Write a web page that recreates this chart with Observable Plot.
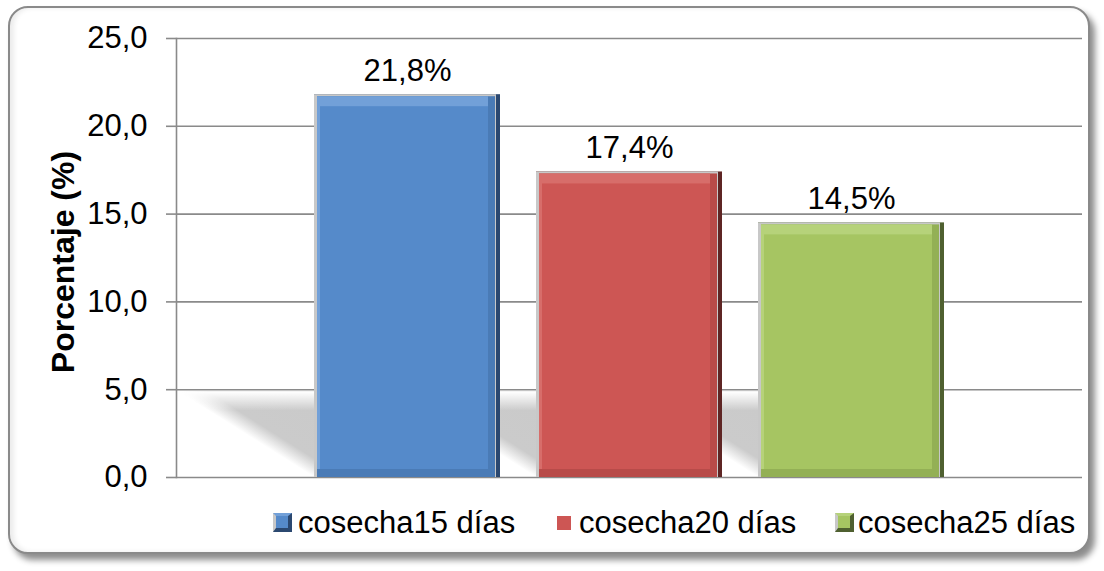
<!DOCTYPE html>
<html>
<head>
<meta charset="utf-8">
<script src="https://cdn.jsdelivr.net/npm/d3@7"></script>
<script src="https://cdn.jsdelivr.net/npm/@observablehq/plot@0.6"></script>
<style>
  html, body { margin: 0; padding: 0; background: #fff; }
  body { width: 1104px; height: 571px; position: relative; overflow: hidden; font-family: "Liberation Sans", Arial, sans-serif; }
  #frame { position: absolute; left: 8px; top: 6px; width: 1078px; height: 544px; border: 2px solid #8a8a8a; border-radius: 20px; background: #fff; box-shadow: 5px 6px 6px rgba(0,0,0,0.45), inset 4px 0 5px rgba(0,0,0,0.08); }
  #chart { position: absolute; left: 0; top: 0; }
  #legend { position: absolute; left: 0; top: 0; width: 1104px; height: 571px; font-size: 31px; color: #000; pointer-events: none; }
  .sw { position: absolute; box-sizing: border-box; }
  .txt { position: absolute; top: 505px; white-space: nowrap; line-height: 36px; }
</style>
</head>
<body>
<div id="frame"></div>
<div id="chart"></div>
<div id="legend"></div>
<script>
// ---- data ----
const series = ["cosecha15 días", "cosecha20 días", "cosecha25 días"];
const values = [21.8, 17.4, 14.5];
const yTicks = [0, 5, 10, 15, 20, 25];
const yLabel = "Porcentaje (%)";
const mainColors  = ["#558ACA", "#CD5654", "#A6C562"];
const lightColors = ["#72A0D8", "#D76D6A", "#B6D27A"];
const shadeColors = ["#4A7BB6", "#B84B49", "#93B055"];
const darkColors  = ["#2B4870", "#5E2524", "#4F6030"];

const data = series.map((s, i) => ({s, v: values[i], main: mainColors[i], light: lightColors[i], shade: shadeColors[i], dark: darkColors[i]}));
const comma = (v, d) => v.toFixed(d).replace(".", ",");

const bar = (opts) => Plot.barY(data, {x: "s", y: "v", ...opts});

const chart = Plot.plot({
  width: 1104,
  height: 500,
  marginLeft: 176,
  marginRight: 22,
  marginTop: 38,
  marginBottom: 23,
  style: {background: "none", fontFamily: "'Liberation Sans', Arial, sans-serif", overflow: "visible"},
  x: {domain: series, range: [278, 980], padding: 0.162, axis: null},
  y: {domain: [0, 25], axis: null},
  color: {type: "identity"},
  marks: [
    // perspective shadow (first bar group; skewed below)
    Plot.barY(data, {x: "s", y1: () => 0, y2: () => 4.85, fill: "#c9c9c9"}),
    Plot.ruleY(yTicks, {stroke: "#8a8a8a", strokeWidth: 1.6}),
    Plot.frame({anchor: "left", stroke: "#8a8a8a", strokeWidth: 1.6}),
    Plot.axisY({ticks: yTicks, tickFormat: d => comma(d, 1), tickSize: 10, tickPadding: 19, fontSize: 31, stroke: "#8a8a8a", strokeWidth: 1.6, label: null}),
    // bevelled bars
    bar({fill: d => d.dark}),
    bar({fill: "#c8c8c8", insetRight: 4}),
    bar({fill: d => d.shade, insetLeft: 3, insetTop: 2, insetRight: 5}),
    bar({fill: d => d.light, insetLeft: 3, insetTop: 2, insetRight: 12, insetBottom: 8}),
    bar({fill: d => d.main, insetLeft: 6, insetTop: 12, insetRight: 12, insetBottom: 8}),
    // value labels
    Plot.text(data, {x: "s", y: "v", text: d => comma(d.v, 1) + "%", lineAnchor: "bottom", dy: -14, fontSize: 31, fill: "#000", style: {letterSpacing: "0.5px"}}),
    // axis title
    Plot.text([yLabel], {text: d => d, frameAnchor: "left", textAnchor: "middle", rotate: -90, dx: -113, dy: 4, fontSize: 32, fontWeight: "bold", fill: "#000", style: {letterSpacing: "1px"}})
  ]
});

// skew the shadow group so it falls back and to the left, with soft gradient edges
const y0 = chart.scale("y").apply(0);
const sh = chart.querySelector('g[aria-label="bar"]');
if (sh) {
  const ns = "http://www.w3.org/2000/svg";
  const defs = document.createElementNS(ns, "defs");
  const mk = (tag, attrs) => { const e = document.createElementNS(ns, tag); for (const k in attrs) e.setAttribute(k, attrs[k]); return e; };
  // horizontal fade (left edge → diagonal edge after skew)
  const gh = mk("linearGradient", {id: "shgradH", x1: "0", y1: "0", x2: "1", y2: "0"});
  gh.appendChild(mk("stop", {offset: "0", "stop-color": "#ffffff"}));
  gh.appendChild(mk("stop", {offset: "0.16", "stop-color": "#cbcbcb"}));
  gh.appendChild(mk("stop", {offset: "1", "stop-color": "#c9c9c9"}));
  defs.appendChild(gh);
  // vertical fade near the top
  const gv = mk("linearGradient", {id: "shgradV", x1: "0", y1: "0", x2: "0", y2: "1"});
  gv.appendChild(mk("stop", {offset: "0", "stop-color": "#fff", "stop-opacity": "1"}));
  gv.appendChild(mk("stop", {offset: "0.22", "stop-color": "#fff", "stop-opacity": "0"}));
  gv.appendChild(mk("stop", {offset: "1", "stop-color": "#fff", "stop-opacity": "0"}));
  defs.appendChild(gv);
  chart.insertBefore(defs, chart.firstChild);
  const prev = sh.getAttribute("transform") || "";
  sh.setAttribute("transform", `${prev} translate(0,${y0}) skewX(57.8) translate(0,${-y0})`);
  sh.querySelectorAll("rect").forEach(r => {
    r.setAttribute("fill", "url(#shgradH)");
    const ov = r.cloneNode();
    ov.setAttribute("fill", "url(#shgradV)");
    r.after(ov);
  });
}
document.getElementById("chart").appendChild(chart);

// legend
const legend = document.getElementById("legend");
const swX = [273, 557, 835];
const txX = [298, 579, 858];
series.forEach((s, i) => {
  const sw = document.createElement("div");
  sw.className = "sw";
  sw.style.left = swX[i] + "px";
  sw.style.background = mainColors[i];
  if (i === 1) {
    sw.style.width = "14px"; sw.style.height = "14px"; sw.style.top = "516px";
  } else {
    sw.style.width = "19px"; sw.style.height = "19px"; sw.style.top = "513px";
    sw.style.borderStyle = "solid";
    sw.style.borderWidth = "3px 4px 4px 3px";
    sw.style.borderColor = `${lightColors[i]} ${darkColors[i]} ${darkColors[i]} #c8c8c8`;
  }
  const t = document.createElement("span");
  t.className = "txt";
  t.style.left = txX[i] + "px";
  t.textContent = s;
  legend.appendChild(sw);
  legend.appendChild(t);
});
</script>
</body>
</html>
